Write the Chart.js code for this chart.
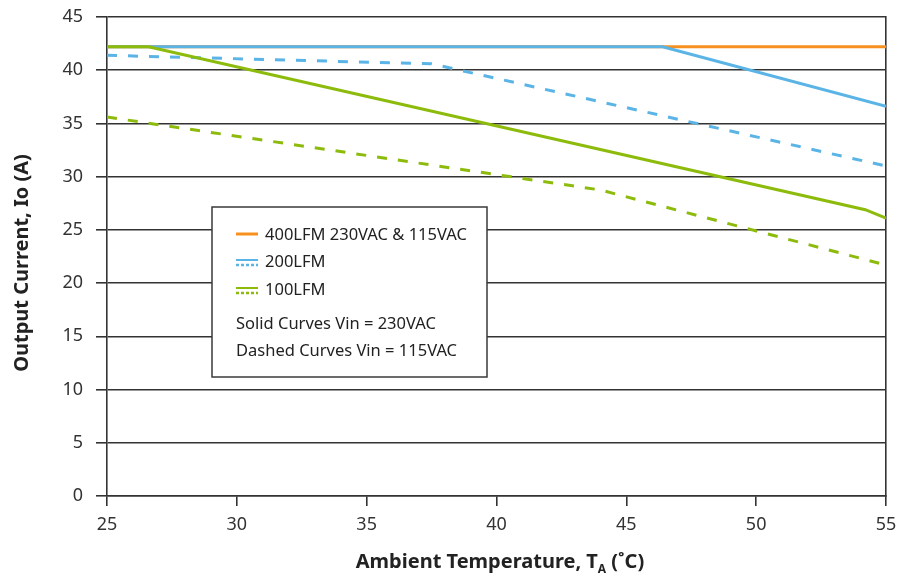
<!DOCTYPE html>
<html>
<head>
<meta charset="utf-8">
<script src="https://cdn.jsdelivr.net/npm/chart.js@4.4.1/dist/chart.umd.min.js"></script>
<style>
  html, body { margin: 0; padding: 0; background: #fff; }
  #wrap { width: 911px; height: 578px; position: relative; }
</style>
</head>
<body>
<div id="wrap"><canvas id="deratingChart"></canvas></div>
<script>
// ambient temperature (C) / output current (A) break points
const temp400 = [25, 55];
const amps400 = [42.2, 42.2];

const temp200Solid = [25, 46.4, 55];
const amps200Solid = [42.2, 42.2, 36.6];
const temp200Dash = [25, 37.5, 55];
const amps200Dash = [41.4, 40.6, 31.0];

const temp100Solid = [25, 26.6, 54.2, 55];
const amps100Solid = [42.2, 42.2, 26.9, 26.1];
const temp100Dash = [25, 44, 55];
const amps100Dash = [35.6, 28.75, 21.7];

const xTickValues = [25, 30, 35, 40, 45, 50, 55];
const yTickValues = [0, 5, 10, 15, 20, 25, 30, 35, 40, 45];

const ORANGE = '#f7901e';
const BLUE = '#5ab4e6';
const GREEN = '#8dbb0c';
const FONT = "'Noto Sans', 'Open Sans', sans-serif";

function toPoints(xs, ys) {
  return xs.map((x, i) => ({ x: x, y: ys[i] }));
}

function curve(label, xs, ys, color, dashed) {
  return {
    label: label,
    data: toPoints(xs, ys),
    borderColor: color,
    backgroundColor: color,
    borderWidth: 3,
    borderDash: dashed ? [10, 11] : [],
    pointRadius: 0,
    tension: 0,
    fill: false
  };
}

// legend box + axis titles (the x title has a subscript, so it is drawn by hand)
const decorations = {
  id: 'decorations',
  afterDraw(chart) {
    const c = chart.ctx;
    c.save();

    // legend box
    c.fillStyle = '#fff';
    c.fillRect(212, 207, 275, 170);
    c.strokeStyle = '#3a3a3a';
    c.lineWidth = 1.5;
    c.strokeRect(212, 207, 275, 170);

    c.lineCap = 'butt';
    c.strokeStyle = ORANGE;
    c.lineWidth = 3;
    c.beginPath(); c.moveTo(236, 234); c.lineTo(258, 234); c.stroke();

    [[BLUE, 260], [GREEN, 288]].forEach(([col, y]) => {
      c.strokeStyle = col;
      c.setLineDash([]);
      c.lineWidth = 2;
      c.beginPath(); c.moveTo(236, y); c.lineTo(258, y); c.stroke();
      c.setLineDash([3, 2]);
      c.lineWidth = 2.5;
      c.beginPath(); c.moveTo(236, y + 5); c.lineTo(258, y + 5); c.stroke();
    });
    c.setLineDash([]);

    c.fillStyle = '#222';
    c.font = '16.5px ' + FONT;
    c.textBaseline = 'middle';
    c.textAlign = 'left';
    c.fillText('400LFM 230VAC & 115VAC', 265, 235);
    c.fillText('200LFM', 265, 262);
    c.fillText('100LFM', 265, 290);
    c.fillText('Solid Curves Vin = 230VAC', 236, 324);
    c.fillText('Dashed Curves Vin = 115VAC', 236, 351);

    // y title
    c.font = 'bold 20px ' + FONT;
    c.fillStyle = '#222';
    c.translate(22, 263);
    c.rotate(-Math.PI / 2);
    c.textAlign = 'center';
    c.fillText('Output Current, Io (A)', 0, 0);
    c.setTransform(1, 0, 0, 1, 0, 0);

    // x title with subscript
    const main = 'Ambient Temperature, T';
    const sub = 'A';
    const tail = ' (\u02DAC)';
    c.font = 'bold 20px ' + FONT;
    const w1 = c.measureText(main).width;
    const w3 = c.measureText(tail).width;
    c.font = 'bold 12px ' + FONT;
    const w2 = c.measureText(sub).width;
    let x = 500 - (w1 + w2 + w3) / 2;
    const y = 562;
    c.textAlign = 'left';
    c.font = 'bold 20px ' + FONT;
    c.fillText(main, x, y);
    x += w1;
    c.font = 'bold 12px ' + FONT;
    c.fillText(sub, x, y + 8);
    x += w2;
    c.font = 'bold 20px ' + FONT;
    c.fillText(tail, x, y);

    c.restore();
  }
};

const ctx = document.getElementById('deratingChart');
new Chart(ctx, {
  type: 'line',
  data: {
    datasets: [
      curve('100LFM 230VAC', temp100Solid, amps100Solid, GREEN, false),
      curve('100LFM 115VAC', temp100Dash, amps100Dash, GREEN, true),
      curve('200LFM 230VAC', temp200Solid, amps200Solid, BLUE, false),
      curve('200LFM 115VAC', temp200Dash, amps200Dash, BLUE, true),
      curve('400LFM 230VAC & 115VAC', temp400, amps400, ORANGE, false)
    ]
  },
  options: {
    responsive: true,
    maintainAspectRatio: false,
    animation: false,
    layout: { padding: { top: 17, left: 0, right: 0, bottom: 0 } },
    plugins: {
      legend: { display: false },
      tooltip: { enabled: false }
    },
    scales: {
      x: {
        type: 'linear',
        min: 25,
        max: 55,
        afterFit: s => { s.height = 82; },
        afterBuildTicks: s => { s.ticks = xTickValues.map(v => ({ value: v })); },
        ticks: {
          color: '#333',
          font: { family: FONT, size: 18 },
          padding: 8,
          maxRotation: 0
        },
        grid: {
          drawOnChartArea: false,
          drawTicks: true,
          tickLength: 10,
          color: '#333',
          lineWidth: 1.6
        },
        border: { display: true, color: '#333', width: 1.6 }
      },
      y: {
        type: 'linear',
        min: 0,
        max: 45,
        afterFit: s => { s.width = 107; s.paddingTop = 0; s.paddingBottom = 0; },
        afterBuildTicks: s => { s.ticks = yTickValues.map(v => ({ value: v })); },
        ticks: {
          color: '#333',
          font: { family: FONT, size: 18 },
          padding: 13
        },
        grid: {
          color: '#333',
          lineWidth: 1.6,
          tickLength: 11
        },
        border: { display: true, color: '#333', width: 1.6 }
      },
      yRight: {
        type: 'linear',
        position: 'right',
        min: 0,
        max: 45,
        afterFit: s => { s.width = 25; s.paddingTop = 0; s.paddingBottom = 0; },
        ticks: { display: false },
        grid: { drawOnChartArea: false, drawTicks: false },
        border: { display: true, color: '#333', width: 1.6 }
      }
    }
  },
  plugins: [decorations]
});
</script>
</body>
</html>
